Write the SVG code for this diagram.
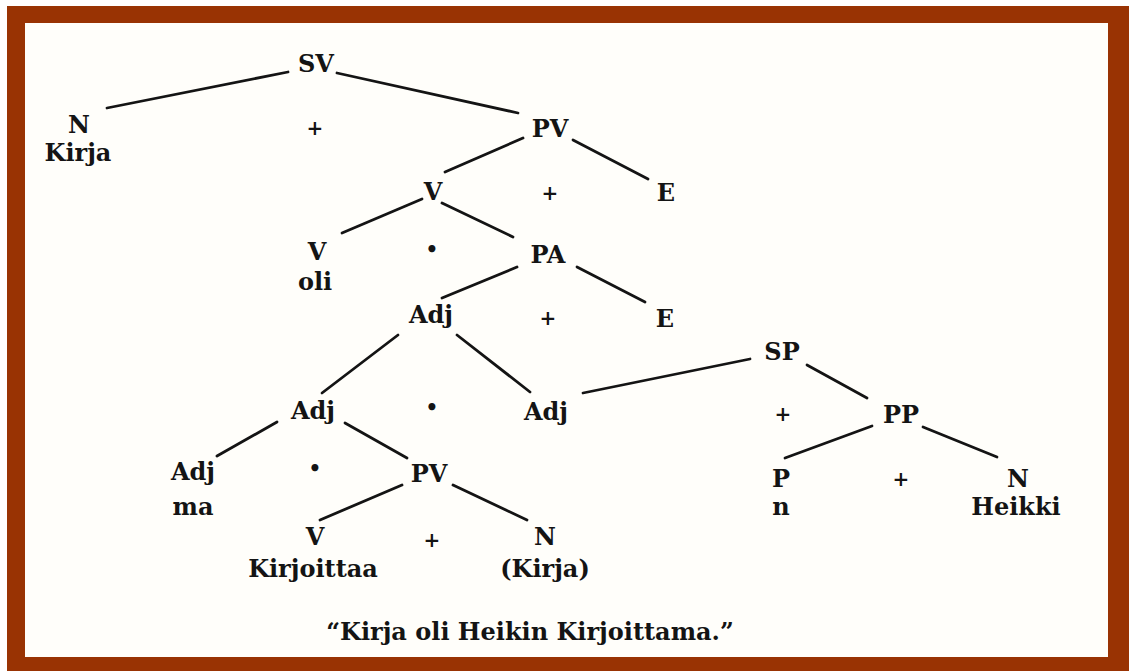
<svg xmlns="http://www.w3.org/2000/svg" width="1136" height="671" viewBox="0 0 1136 671">
<style>
.t{font-family:"DejaVu Serif","Liberation Serif",serif;font-weight:bold;font-size:24px;fill:#141414;text-anchor:middle}
.op{font-family:"DejaVu Serif","Liberation Serif",serif;font-weight:bold;font-size:20px;fill:#141414;text-anchor:middle}
.e line{stroke:#141414;stroke-width:2.8;stroke-linecap:round}
</style>
<rect x="0" y="0" width="1136" height="671" fill="#ffffff"/>
<rect x="7" y="6" width="1122" height="665" fill="#993303"/>
<rect x="25" y="23" width="1083" height="634" fill="#fffefa"/>
<g id="connectors" class="e">
<line x1="288" y1="72" x2="107" y2="108"/>
<line x1="337" y1="73" x2="518" y2="113"/>
<line x1="523" y1="138" x2="445" y2="172"/>
<line x1="573" y1="140" x2="648" y2="179"/>
<line x1="422" y1="199" x2="342" y2="233"/>
<line x1="442" y1="203" x2="513" y2="237"/>
<line x1="517" y1="267" x2="442" y2="298"/>
<line x1="577" y1="267" x2="645" y2="302"/>
<line x1="398" y1="335" x2="322" y2="393"/>
<line x1="457" y1="335" x2="530" y2="392"/>
<line x1="583" y1="393" x2="750" y2="359"/>
<line x1="807" y1="365" x2="867" y2="398"/>
<line x1="277" y1="422" x2="217" y2="456"/>
<line x1="345" y1="423" x2="407" y2="458"/>
<line x1="872" y1="426" x2="785" y2="458"/>
<line x1="923" y1="427" x2="997" y2="457"/>
<line x1="402" y1="485" x2="320" y2="520"/>
<line x1="453" y1="485" x2="527" y2="520"/>
</g>
<g id="n-SV"><text class="t" x="316" y="72">SV</text></g>
<g id="n-N-Kirja"><text class="t" x="79" y="133">N</text><text class="t" x="78" y="161">Kirja</text></g>
<g id="n-PV1"><text class="t" x="550" y="137">PV</text></g>
<g id="n-V1"><text class="t" x="433" y="200">V</text></g>
<g id="n-E1"><text class="t" x="666" y="201">E</text></g>
<g id="n-V-oli"><text class="t" x="317" y="260">V</text><text class="t" x="315" y="290">oli</text></g>
<g id="n-PA"><text class="t" x="548" y="263">PA</text></g>
<g id="n-Adj1"><text class="t" x="431" y="323">Adj</text></g>
<g id="n-E2"><text class="t" x="665" y="327">E</text></g>
<g id="n-SP"><text class="t" x="782" y="360">SP</text></g>
<g id="n-Adj2"><text class="t" x="313" y="419">Adj</text></g>
<g id="n-Adj3"><text class="t" x="546" y="420">Adj</text></g>
<g id="n-PP"><text class="t" x="901" y="423">PP</text></g>
<g id="n-Adj-ma"><text class="t" x="193" y="480">Adj</text><text class="t" x="193" y="515">ma</text></g>
<g id="n-PV2"><text class="t" x="429" y="482">PV</text></g>
<g id="n-P-n"><text class="t" x="781" y="487">P</text><text class="t" x="781" y="515">n</text></g>
<g id="n-N-Heikki"><text class="t" x="1018" y="487">N</text><text class="t" x="1016" y="515">Heikki</text></g>
<g id="n-V-Kirjoittaa"><text class="t" x="315" y="545">V</text><text class="t" x="313" y="577">Kirjoittaa</text></g>
<g id="n-N-Kirja2"><text class="t" x="545" y="545">N</text><text class="t" x="545" y="577">(Kirja)</text></g>
<g id="operators">
<text class="op" x="315" y="135">+</text>
<text class="op" x="550" y="200">+</text>
<text class="op" x="432" y="256">•</text>
<text class="op" x="548" y="325">+</text>
<text class="op" x="432" y="414">•</text>
<text class="op" x="783" y="421">+</text>
<text class="op" x="315" y="475">•</text>
<text class="op" x="901" y="486">+</text>
<text class="op" x="432" y="547">+</text>
</g>
<g id="caption"><text class="t" x="530" y="640">“Kirja oli Heikin Kirjoittama.”</text></g>
</svg>
